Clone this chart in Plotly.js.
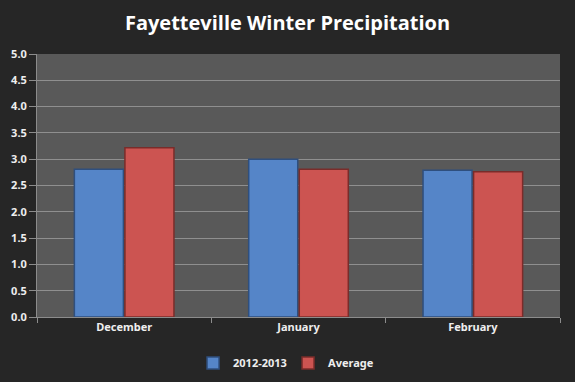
<!DOCTYPE html>
<html>
<head>
<meta charset="utf-8">
<script src="https://cdn.plot.ly/plotly-3.0.1.min.js"></script>
<style>html,body{margin:0;padding:0;background:#262626;}#chart{width:575px;height:382px;}</style>
</head>
<body>
<div id="chart"></div>
<script>
const months = ["December", "January", "February"];
const season2012 = [2.81, 3.00, 2.79];
const average = [3.22, 2.81, 2.76];
const yTicks = [0, 0.5, 1, 1.5, 2, 2.5, 3, 3.5, 4, 4.5, 5];
const yTickLabels = ["0.0","0.5","1.0","1.5","2.0","2.5","3.0","3.5","4.0","4.5","5.0"];

const traces = [
  {type: "bar", name: "2012-2013", x: months, y: season2012,
   marker: {color: "#5585C8", line: {color: "#2F4F7E", width: 1.5}}},
  {type: "bar", name: "Average", x: months, y: average,
   marker: {color: "#CC5451", line: {color: "#7A2C2A", width: 1.5}}}
];

const layout = {
  width: 575, height: 382,
  paper_bgcolor: "#262626",
  plot_bgcolor: "#595959",
  margin: {l: 37, r: 15, t: 54, b: 65, autoexpand: false},
  barmode: "group",
  bargap: 0.42,
  bargroupgap: 0.03,
  title: {text: "<b>Fayetteville Winter Precipitation</b>", x: 0.5, xanchor: "center", y: 0.94, yanchor: "middle",
          font: {family: "Open Sans, sans-serif", size: 20, color: "#ffffff"}},
  font: {family: "Noto Sans, sans-serif", color: "#e6e6e6"},
  xaxis: {
    showline: true, linecolor: "#8c8c8c", linewidth: 1,
    ticks: "outside", tickson: "boundaries", ticklen: 5, tickcolor: "#8c8c8c",
    tickfont: {size: 11, color: "#eeeeee", family: "Noto Sans, sans-serif", weight: "bold"},
    showgrid: false, fixedrange: true
  },
  yaxis: {
    range: [0, 5], tickvals: yTicks, ticktext: yTickLabels,
    showline: true, linecolor: "#8c8c8c", linewidth: 1,
    ticks: "outside", ticklen: 7, tickcolor: "#8c8c8c",
    gridcolor: "#8f8f8f", gridwidth: 1, zeroline: false,
    tickfont: {size: 11, color: "#eeeeee", family: "Noto Sans, sans-serif", weight: "bold"},
    fixedrange: true
  },
  legend: {orientation: "h", x: 0.48, xanchor: "center", y: -0.12, yanchor: "top",
           font: {size: 11, color: "#eeeeee", family: "Noto Sans, sans-serif", weight: "bold"},
           itemwidth: 30, entrywidth: 50, bgcolor: "rgba(0,0,0,0)"},
  showlegend: true
};

Plotly.newPlot("chart", traces, layout, {staticPlot: true, displayModeBar: false});
</script>
</body>
</html>
